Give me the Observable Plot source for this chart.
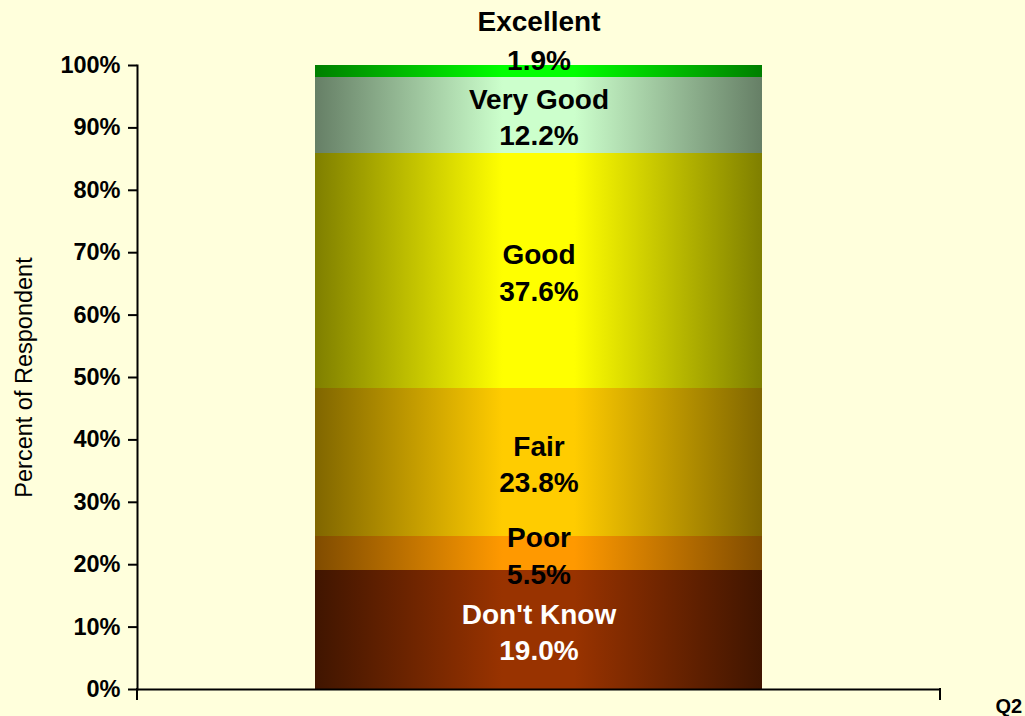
<!DOCTYPE html>
<html>
<head>
<meta charset="utf-8">
<script src="https://cdn.jsdelivr.net/npm/d3@7"></script>
<script src="https://cdn.jsdelivr.net/npm/@observablehq/plot@0.6"></script>
<style>
  html, body { margin: 0; padding: 0; background: #ffffdc; }
  #chart svg { display: block; }
</style>
</head>
<body>
<div id="chart"></div>
<script>
// ---- data ----
const question = "Q2";
const categories = ["Don't Know", "Poor", "Fair", "Good", "Very Good", "Excellent"];
const percents = [19.0, 5.5, 23.8, 37.6, 12.2, 1.9];
const yTicks = [0, 10, 20, 30, 40, 50, 60, 70, 80, 90, 100];

// ---- styles (gradient edge / centre colours per category) ----
const edgeColors   = ["#401500", "#804c00", "#806600", "#7f7f00", "#667f66", "#007f00"];
const centerColors = ["#993300", "#ff9900", "#ffcc00", "#ffff00", "#ccffcc", "#00ff00"];
const textColors   = ["white", "black", "black", "black", "black", "black"];

const rows = categories.map((c, i) => ({
  q: question, category: c, value: percents[i], idx: i
}));
// label positions derived from cumulative stacking
const cums = d3.cumsum(percents);
const labels = rows.map((r, i) => {
  const top = cums[i], base = top - r.value;
  const small = r.value < 3;
  return {
    ...r,
    ly: small ? top : base + r.value / 2,
    small,
    text: `${r.category}\n${r.value.toFixed(1)}%`
  };
});

const font = "'Liberation Sans', Arial, sans-serif";

const plot = Plot.plot({
  width: 1025,
  height: 716,
  marginLeft: 137,
  marginRight: 85,
  marginTop: 65,
  marginBottom: 27,
  style: { background: "#ffffdc", fontFamily: font, overflow: "visible" },
  x: { type: "band", domain: [question], padding: 0.2845, axis: null },
  y: { domain: [0, 100], axis: null },
  color: { type: "identity" },
  marks: [
    Plot.barY(rows, {
      x: "q", y: "value", order: null,
      fill: d => `url(#seg-grad-${d.idx})`,
      shapeRendering: "crispEdges"
    }),
    Plot.axisY({
      ticks: yTicks,
      tickFormat: d => d + "%",
      tickSize: 9,
      tickPadding: 8,
      strokeWidth: 2,
      fontSize: 23.5,
      fontWeight: "bold",
      fill: "black",
      label: null
    }),
    Plot.frame({ anchor: "left", strokeWidth: 2, stroke: "black" }),
    Plot.ruleY([0], { strokeWidth: 2, stroke: "black" }),
    Plot.text(labels.filter(d => !d.small), {
      x: "q", y: "ly", text: "text",
      fill: d => textColors[d.idx],
      fontSize: 28, fontWeight: "bold", lineHeight: 1.3,
      lineAnchor: "middle"
    }),
    Plot.text(labels.filter(d => d.small), {
      x: "q", y: "ly", text: "text",
      fill: d => textColors[d.idx],
      fontSize: 28, fontWeight: "bold", lineHeight: 1.36,
      lineAnchor: "bottom", dy: 4
    }),
    Plot.text(["Percent of Respondent"], {
      frameAnchor: "left", textAnchor: "middle", rotate: -90, dx: -113,
      fontSize: 23.5, fill: "black"
    }),
    Plot.text([question], {
      frameAnchor: "bottom-right", textAnchor: "start", lineAnchor: "bottom",
      dx: 55, dy: 23, fontSize: 20, fontWeight: "bold", fill: "black"
    })
  ]
});

// gradient definitions
const svg = d3.select(plot);
const defs = svg.insert("defs", ":first-child");
categories.forEach((c, i) => {
  const g = defs.append("linearGradient")
    .attr("id", `seg-grad-${i}`)
    .attr("x1", "0").attr("x2", "1").attr("y1", "0").attr("y2", "0");
  g.append("stop").attr("offset", "0%").attr("stop-color", edgeColors[i]);
  g.append("stop").attr("offset", "42%").attr("stop-color", centerColors[i]);
  g.append("stop").attr("offset", "58%").attr("stop-color", centerColors[i]);
  g.append("stop").attr("offset", "100%").attr("stop-color", edgeColors[i]);
});

// small downward ticks at both ends of the category axis
const xr = plot.scale("x").range;
const y0 = plot.scale("y").apply(0);
svg.append("g").attr("stroke", "black").attr("stroke-width", 2)
  .selectAll("line").data(xr).join("line")
  .attr("x1", d => d).attr("x2", d => d)
  .attr("y1", y0 - 1).attr("y2", y0 + 11);

document.getElementById("chart").appendChild(plot);
</script>
</body>
</html>
